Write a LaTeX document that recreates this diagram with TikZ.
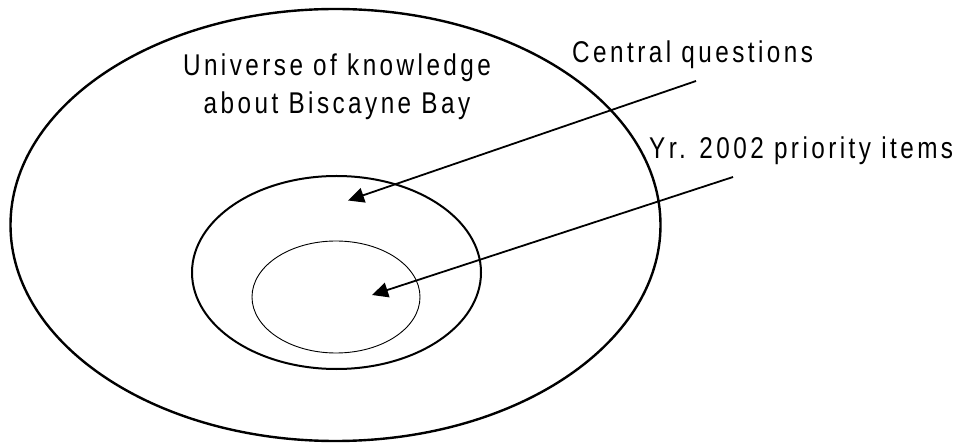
\documentclass[tikz,border=0pt]{standalone}
\usepackage{fontspec}
\newfontfamily\labfont[FakeStretch=0.81,LetterSpace=11.5]{Liberation Sans}
\usetikzlibrary{arrows.meta}
\begin{document}
\begin{tikzpicture}[x=1pt,y=-1pt,
  lab/.style={font=\labfont\fontsize{30}{38}\selectfont, inner sep=0pt, text=black},
  pointer/.style={line width=1.8pt, -{Triangle[length=16pt,width=15pt]}}]
\useasboundingbox (0,0) rectangle (963,443);
\fill[white] (0,0) rectangle (963,443);
% ellipses
\draw[line width=2.4pt] (335.5,225) ellipse [x radius=325, y radius=216];
\draw[line width=2pt] (336.5,272.5) ellipse [x radius=144.5, y radius=96.5];
\draw[line width=0.9pt] (336,297) ellipse [x radius=84, y radius=56];
% labels
\node[lab, anchor=base, align=center] (univ) at (337,114) {Universe of knowledge\\about Biscayne Bay};
\node[lab, anchor=base west] (central) at (572,63) {Central questions};
\node[lab, anchor=base west] (prior) at (649,159) {Yr. 2002 priority items};
% arrows
\coordinate (c1) at (696,81);
\coordinate (t1) at (348,200.5);
\coordinate (c2) at (733,177);
\coordinate (t2) at (372,295);
\draw[pointer] (c1) -- (t1);
\draw[pointer] (c2) -- (t2);
\end{tikzpicture}
\end{document}
